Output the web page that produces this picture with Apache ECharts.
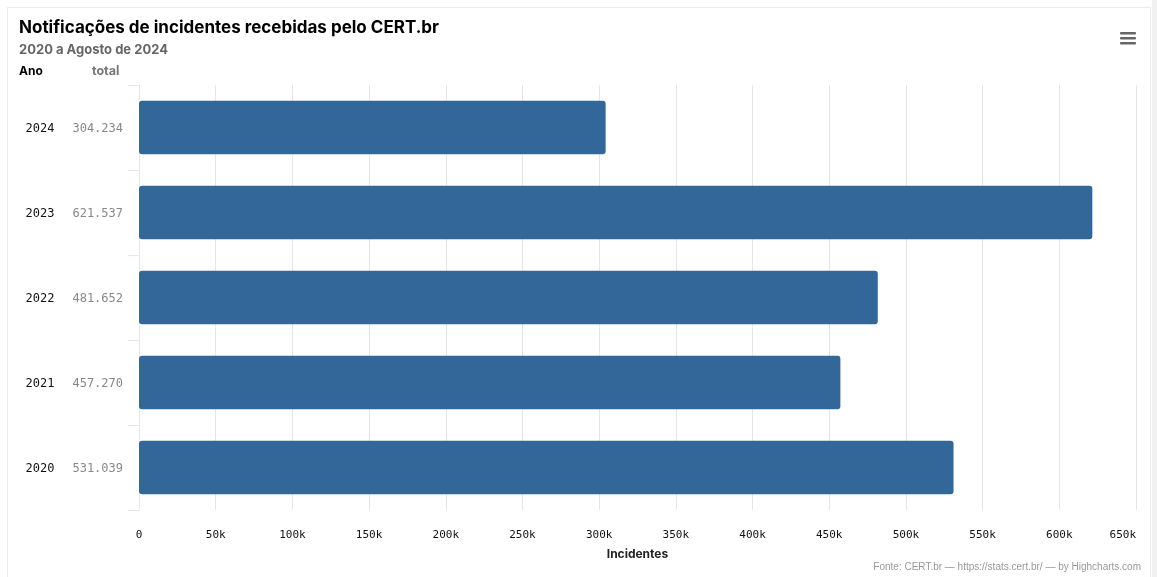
<!DOCTYPE html>
<html>
<head>
<meta charset="utf-8">
<script src="https://cdn.jsdelivr.net/npm/echarts@6/dist/echarts.min.js"></script>
<style>
html,body{margin:0;padding:0;background:#fff;}
#frame{position:absolute;left:7px;top:7px;width:1144px;height:580px;border:1px solid #ececec;box-sizing:border-box;}
#strip{position:absolute;left:1152px;top:0;width:5px;height:577px;background:#f1f1f1;}
#chart{position:absolute;left:0;top:0;width:1157px;height:577px;}
</style>
</head>
<body>
<div id="frame"></div>
<div id="strip"></div>
<div id="chart"></div>
<script>
const titleText = 'Notificações de incidentes recebidas pelo CERT.br';
const subtitleText = '2020 a Agosto de 2024';
const creditsText = 'Fonte: CERT.br — https://stats.cert.br/ — by Highcharts.com';
const axisTitle = 'Incidentes';
const categories = ['2020', '2021', '2022', '2023', '2024'];
const totals = [531039, 457270, 481652, 621537, 304234];
const totalLabels = ['531.039', '457.270', '481.652', '621.537', '304.234'];

const chart = echarts.init(document.getElementById('chart'), null, {renderer: 'canvas'});
const titleFont = 'Inter, "Open Sans", sans-serif';
chart.setOption({
  animation: false,
  title: [
    {text: titleText, left: 14, top: 14, textStyle: {fontFamily: titleFont, fontWeight: 'bold', fontSize: 17, color: '#000'}},
    {text: subtitleText, left: 14, top: 39, textStyle: {fontFamily: titleFont, fontWeight: 'bold', fontSize: 13, color: '#666'}},
    {text: 'Ano', left: 14, top: 60, textStyle: {fontFamily: titleFont, fontWeight: 'bold', fontSize: 12, color: '#000'}},
    {text: 'total', left: 87, top: 60, textStyle: {fontFamily: titleFont, fontWeight: 'bold', fontSize: 12.5, color: '#777'}},
    {text: creditsText, right: 11, top: 557, textStyle: {fontFamily: 'Liberation Sans, Arial, sans-serif', fontWeight: 'normal', fontSize: 10, color: '#999'}}
  ],
  graphic: [
    {type: 'rect', shape: {x: 1120, y: 32, width: 16, height: 2.5, r: 1}, style: {fill: '#666'}},
    {type: 'rect', shape: {x: 1120, y: 37, width: 16, height: 2.5, r: 1}, style: {fill: '#666'}},
    {type: 'rect', shape: {x: 1120, y: 42, width: 16, height: 2.5, r: 1}, style: {fill: '#666'}}
  ],
  grid: {left: 139, right: 21, top: 85, bottom: 67, containLabel: false},
  xAxis: {
    type: 'value', min: 0, max: 650000, interval: 50000,
    name: axisTitle, nameLocation: 'middle', nameGap: 38,
    nameTextStyle: {fontFamily: titleFont, fontWeight: 'bold', fontSize: 12, color: '#222'},
    axisLine: {show: false}, axisTick: {show: false},
    splitLine: {show: true, lineStyle: {color: '#e6e6e6', width: 1}},
    axisLabel: {
      margin: 20, alignMaxLabel: 'right',
      fontFamily: '"DejaVu Sans Mono", monospace', fontSize: 11, color: '#111',
      formatter: v => v === 0 ? '0' : (v / 1000) + 'k'
    }
  },
  yAxis: {
    type: 'category', data: categories,
    axisLine: {show: true, lineStyle: {color: '#e6e6e6'}},
    axisTick: {show: true, length: 11, lineStyle: {color: '#e6e6e6'}},
    splitLine: {show: false},
    axisLabel: {
      margin: 16,
      formatter: (v, i) => '{y|' + v + '}{t|' + totalLabels[i] + '}',
      rich: {
        y: {fontFamily: '"DejaVu Sans Mono", monospace', fontSize: 12, color: '#111', padding: [3, 18, 0, 0]},
        t: {fontFamily: '"DejaVu Sans Mono", monospace', fontSize: 12, color: '#888', padding: [3, 0, 0, 0]}
      }
    }
  },
  series: [{
    type: 'bar', data: totals, barWidth: '63%',
    itemStyle: {color: '#336699', borderRadius: 3}
  }]
});
</script>
</body>
</html>
